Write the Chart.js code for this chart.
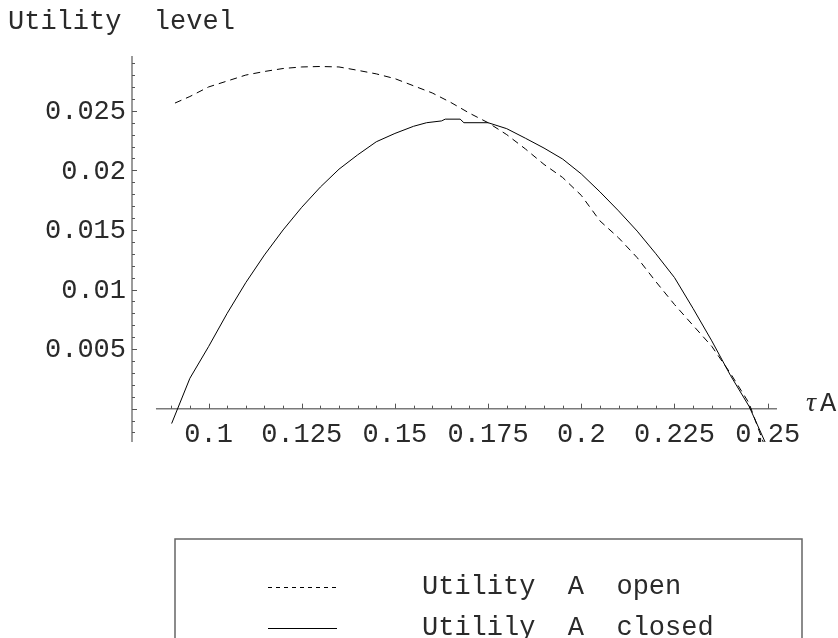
<!DOCTYPE html>
<html>
<head>
<meta charset="utf-8">
<script src="https://cdn.jsdelivr.net/npm/chart.js@4.4.1/dist/chart.umd.min.js"></script>
<style>
  html, body { margin: 0; padding: 0; background: #ffffff; }
  canvas { display: block; }
</style>
</head>
<body>
<canvas id="chart" width="838" height="638"></canvas>
<script>
// Tax rate tau_A (x) and utility of country A under the two regimes
const openTau = [0.091, 0.095, 0.100, 0.105, 0.110, 0.115, 0.120, 0.125, 0.130, 0.135,
                 0.140, 0.145, 0.150, 0.155, 0.160, 0.165, 0.170, 0.175, 0.180, 0.185,
                 0.190, 0.195, 0.200, 0.205, 0.210, 0.215, 0.220, 0.225, 0.230, 0.235,
                 0.240, 0.245, 0.2488];
const openUtility = [0.02565, 0.0262, 0.0270, 0.0275, 0.0280, 0.0283, 0.02855, 0.02868, 0.02872, 0.02868,
                     0.0284, 0.0281, 0.0277, 0.0271, 0.0265, 0.0257, 0.0248, 0.0240, 0.0230, 0.0218,
                     0.0205, 0.0194, 0.0179, 0.01576, 0.01434, 0.01267, 0.01066, 0.00874, 0.00698, 0.00523,
                     0.00297, 0.00046, -0.0028];

const closedTau = [0.0901, 0.095, 0.100, 0.105, 0.110, 0.115, 0.120, 0.125, 0.130, 0.135,
                   0.140, 0.145, 0.150, 0.155, 0.1585, 0.1625, 0.1635, 0.1675, 0.1685, 0.175,
                   0.180, 0.185, 0.190, 0.195, 0.200, 0.205, 0.210, 0.215, 0.220, 0.225,
                   0.230, 0.235, 0.240, 0.245, 0.2493];
const closedUtility = [-0.00125, 0.00255, 0.0052, 0.0080, 0.01058, 0.0129, 0.0150, 0.0169, 0.0186, 0.0201,
                       0.0213, 0.0224, 0.0231, 0.0237, 0.0240, 0.02415, 0.0243, 0.0243, 0.0240, 0.0240,
                       0.0235, 0.0227, 0.02187, 0.02095, 0.0197, 0.0182, 0.0166, 0.0149, 0.0130, 0.0110,
                       0.0084, 0.00569, 0.0028, 0.0002, -0.0028];

// Axis ticks and their labels
const xTickValues = [0.1, 0.125, 0.15, 0.175, 0.2, 0.225, 0.25];
const xTickLabels = ['0.1', '0.125', '0.15', '0.175', '0.2', '0.225', '0.25'];
const yTickValues = [0.005, 0.01, 0.015, 0.02, 0.025];
const yTickLabels = ['0.005', '0.01', '0.015', '0.02', '0.025'];

const seriesNames = ['Utility  A  open', 'Utilily  A  closed'];
const yAxisTitle = 'Utility  level';
const xAxisTitle = 'A';

const MONO = '"Liberation Mono", "DejaVu Sans Mono", monospace';
const FONT = '27px ' + MONO;
const TEXT_COLOR = '#2a2a2a';
const AXIS_GREY = '#7a7a7a';

function toPoints(xs, ys) {
  return xs.map((x, i) => ({ x: x, y: ys[i] }));
}

// Range of the plotted region; the x axis line itself starts a bit right of the y axis
const X_MIN = 0.07947, X_MAX = 0.2525, X_AXIS_START = 0.0859;
const Y_MIN = -0.0028, Y_MAX = 0.0296;

const axesPlugin = {
  id: 'plotAxes',
  beforeDatasetsDraw(chart) {
    const ctx = chart.ctx;
    const xs = chart.scales.x, ys = chart.scales.y;
    const y0 = ys.getPixelForValue(0);
    const xLeft = xs.getPixelForValue(X_MIN);
    ctx.save();
    ctx.strokeStyle = AXIS_GREY;
    ctx.lineWidth = 1.5;
    // y axis
    ctx.beginPath();
    ctx.moveTo(xLeft, ys.getPixelForValue(Y_MAX));
    ctx.lineTo(xLeft, ys.getPixelForValue(Y_MIN));
    ctx.stroke();
    // x axis at zero
    ctx.beginPath();
    ctx.moveTo(xs.getPixelForValue(X_AXIS_START), y0);
    ctx.lineTo(xs.getPixelForValue(X_MAX), y0);
    ctx.stroke();

    ctx.lineWidth = 1;
    ctx.strokeStyle = '#555';
    // y ticks every 0.001, longer at labelled values
    for (let k = -2; k <= 29; k++) {
      const v = k / 1000;
      const py = Math.round(ys.getPixelForValue(v)) + 0.5;
      const len = (k % 5 === 0) ? 5 : 3;
      ctx.beginPath();
      ctx.moveTo(xLeft, py);
      ctx.lineTo(xLeft + len, py);
      ctx.stroke();
    }
    // x ticks every 0.005, pointing up
    for (let k = 18; k <= 50; k++) {
      const v = k * 0.005;
      const px = Math.round(xs.getPixelForValue(v)) + 0.5;
      const len = (k % 5 === 0) ? 5 : 3;
      ctx.beginPath();
      ctx.moveTo(px, y0);
      ctx.lineTo(px, y0 - len);
      ctx.stroke();
    }
    ctx.restore();
  },
  afterDraw(chart) {
    const ctx = chart.ctx;
    const xs = chart.scales.x, ys = chart.scales.y;
    const y0 = ys.getPixelForValue(0);
    const xLeft = xs.getPixelForValue(X_MIN);
    ctx.save();
    ctx.fillStyle = TEXT_COLOR;
    ctx.font = FONT;

    // y tick labels
    ctx.textAlign = 'right';
    ctx.textBaseline = 'middle';
    yTickValues.forEach((v, i) => {
      ctx.fillText(yTickLabels[i], xLeft - 6, ys.getPixelForValue(v) + 1);
    });
    // x tick labels
    ctx.textAlign = 'center';
    xTickValues.forEach((v, i) => {
      ctx.fillText(xTickLabels[i], xs.getPixelForValue(v), y0 + 26);
    });

    // axis titles
    ctx.textAlign = 'left';
    ctx.fillText(yAxisTitle, 8, 22);
    ctx.font = 'italic 28px "Liberation Serif", serif';
    ctx.fillText('\u03c4', 806, 404);
    ctx.font = FONT;
    ctx.fillText(xAxisTitle, 820, 404);

    // legend box
    ctx.strokeStyle = '#666';
    ctx.lineWidth = 1.5;
    ctx.beginPath();
    ctx.moveTo(175, 640);
    ctx.lineTo(175, 539);
    ctx.lineTo(802, 539);
    ctx.lineTo(802, 640);
    ctx.stroke();

    const rows = [587, 628];
    ctx.strokeStyle = '#000';
    ctx.lineWidth = 1;
    // dashed sample
    ctx.setLineDash([4, 4]);
    ctx.beginPath();
    ctx.moveTo(268, rows[0] + 0.5);
    ctx.lineTo(337, rows[0] + 0.5);
    ctx.stroke();
    // solid sample
    ctx.setLineDash([]);
    ctx.beginPath();
    ctx.moveTo(268, rows[1] + 0.5);
    ctx.lineTo(337, rows[1] + 0.5);
    ctx.stroke();

    ctx.fillStyle = TEXT_COLOR;
    ctx.font = FONT;
    ctx.textAlign = 'left';
    ctx.fillText(seriesNames[0], 422, rows[0]);
    ctx.fillText(seriesNames[1], 422, rows[1]);
    ctx.restore();
  }
};

new Chart(document.getElementById('chart'), {
  type: 'line',
  data: {
    datasets: [
      {
        label: seriesNames[0],
        data: toPoints(openTau, openUtility),
        borderColor: '#000',
        borderWidth: 1,
        borderDash: [7, 5],
        pointRadius: 0,
        tension: 0,
        fill: false
      },
      {
        label: seriesNames[1],
        data: toPoints(closedTau, closedUtility),
        borderColor: '#000',
        borderWidth: 1,
        pointRadius: 0,
        tension: 0,
        fill: false
      }
    ]
  },
  options: {
    responsive: false,
    animation: false,
    devicePixelRatio: 1,
    layout: { padding: { left: 132, right: 61, top: 56, bottom: 196 } },
    plugins: { legend: { display: false }, tooltip: { enabled: false }, title: { display: false } },
    scales: {
      x: { type: 'linear', min: X_MIN, max: X_MAX, display: false },
      y: { type: 'linear', min: Y_MIN, max: Y_MAX, display: false }
    }
  },
  plugins: [axesPlugin]
});
</script>
</body>
</html>
